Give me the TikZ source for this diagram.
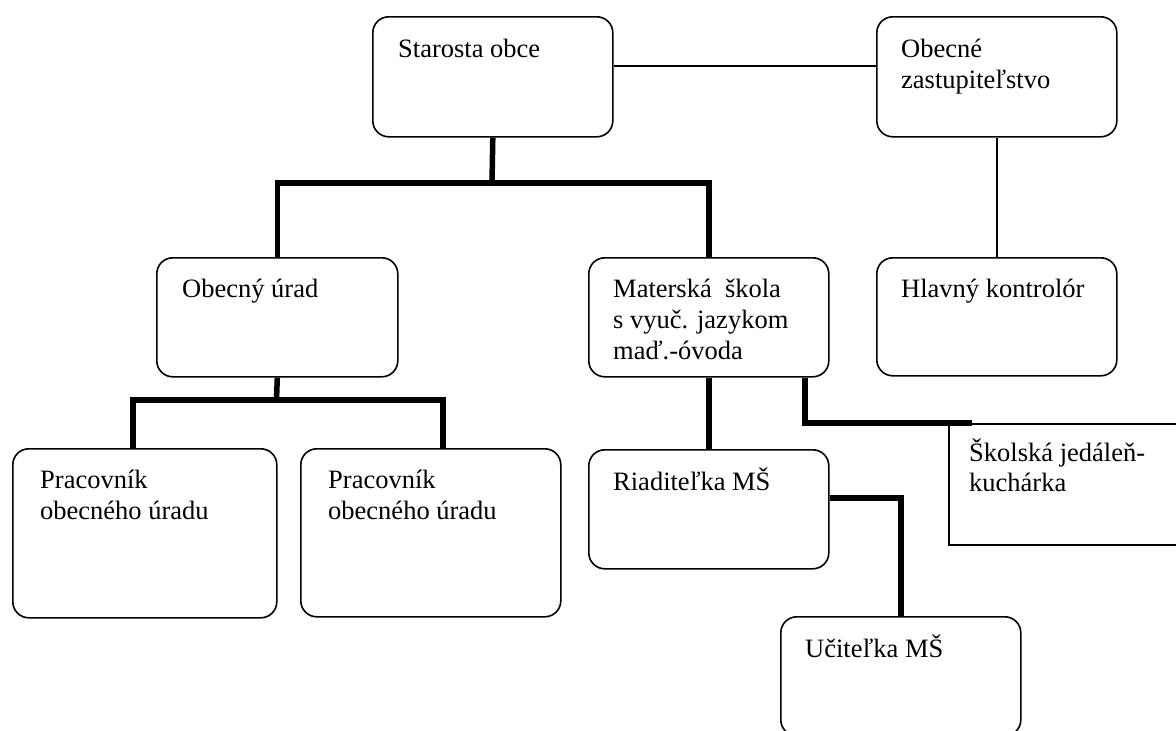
\documentclass[tikz,border=0pt]{standalone}
\usepackage{fontspec}
\setmainfont{Liberation Serif}
\usetikzlibrary{calc}
\begin{document}
\begin{tikzpicture}[x=1pt,y=-1pt,
  box/.style={draw, line width=1.6pt, rounded corners=16pt, anchor=north west, inner sep=0pt},
  plainbox/.style={draw, line width=1.6pt, anchor=north west, inner sep=0pt},
  lbl/.style={anchor=north west, inner sep=0pt, align=left, font=\fontsize{26.5}{31}\selectfont},
  thinline/.style={line width=1.5pt},
  thickline/.style={line width=5.5pt}]
\useasboundingbox (0,0) rectangle (1176,731);
\clip (0,0) rectangle (1176,731);

% boxes
\node[box, minimum width=240pt, minimum height=120pt] (sta) at (372,16) {};
\node[box, minimum width=240pt, minimum height=120pt] (oz) at (876,16) {};
\node[box, minimum width=241pt, minimum height=119pt] (obu) at (156,257) {};
\node[box, minimum width=240pt, minimum height=119pt] (ms) at (588,257) {};
\node[box, minimum width=240pt, minimum height=118pt] (hk) at (876,257) {};
\node[box, minimum width=264pt, minimum height=169pt] (p1) at (12,448) {};
\node[box, minimum width=260pt, minimum height=168pt] (p2) at (300,448) {};
\node[box, minimum width=240pt, minimum height=119pt] (ria) at (588,449) {};
\node[plainbox, minimum width=300pt, minimum height=121pt] (sk) at (948,423) {};
\node[box, minimum width=240pt, minimum height=119pt] (uc) at (780,616) {};

% labels
\node[lbl] (sta-t) at (398,35.5) {\strut Starosta obce};
\node[lbl] (oz-t) at (901,35.5) {\strut Obecné\\zastupiteľstvo};
\node[lbl] (obu-t) at (182,276) {\strut Obecný úrad};
\node[lbl] (ms-t) at (613,276) {\strut Materská~ škola\\s vyuč. jazykom\\maď.-óvoda};
\node[lbl] (hk-t) at (901,276) {\strut Hlavný kontrolór};
\node[lbl] (p1-t) at (40,467) {\strut Pracovník\\obecného úradu};
\node[lbl] (p2-t) at (328,467) {\strut Pracovník\\obecného úradu};
\node[lbl] (ria-t) at (613,467.5) {\strut Riaditeľka MŠ};
\node[lbl, font=\fontsize{26.5}{30}\selectfont] (sk-t) at (969,438.5) {\strut Školská jedáleň-\\kuchárka};
\node[lbl] (uc-t) at (805,635) {\strut Učiteľka MŠ};

% connectors
\coordinate (j1) at (492,183);
\draw[thickline] (sta.south) -- (j1);
\draw[thickline] (obu.north) |- (j1) -| (ms.north);

\coordinate (j2) at (276.5,400);
\draw[thickline] (obu.south) -- (j2);
\draw[thickline] ([xshift=121pt]p1.north west) |- (j2) -| ([xshift=143pt]p2.north west);

\draw[thickline] (ms.south) -- (ria.north);
\draw[thickline] ([xshift=96pt]ms.south) |- ([xshift=24pt]sk.north west);
\draw[thickline] ([yshift=11.5pt]ria.east) -| (uc.north);

\draw[thinline] ([yshift=11pt]sta.east) -- ([yshift=11pt]oz.west);
\draw[thinline] (oz.south) -- (hk.north);
\end{tikzpicture}
\end{document}
